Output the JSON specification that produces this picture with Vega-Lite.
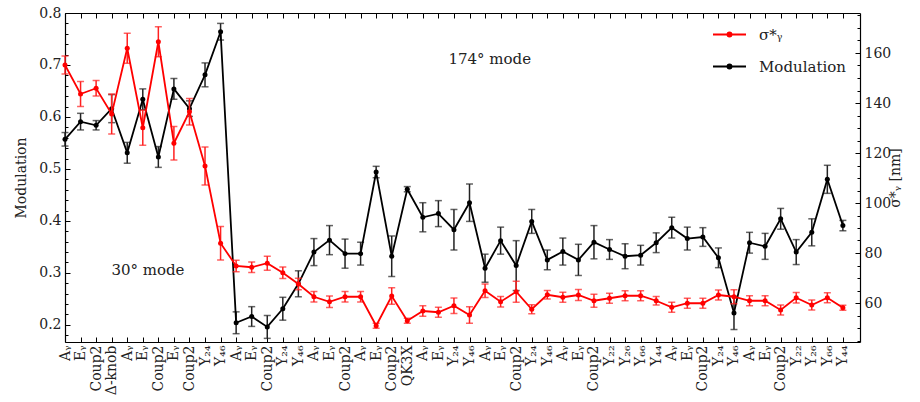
{
  "$schema": "https://vega.github.io/schema/vega-lite/v6.json",
  "width": 795,
  "height": 329,
  "autosize": {"type": "none"},
  "padding": {"left": 65, "top": 13, "right": 60, "bottom": 60},
  "background": "white",
  "config": {
    "font": "DejaVu Serif",
    "view": {"stroke": null},
    "axis": {"grid": false, "domainColor": "#000", "domainWidth": 1.2, "tickColor": "#000", "tickWidth": 1, "labelColor": "#222", "titleColor": "#222", "labelFont": "DejaVu Serif", "titleFont": "DejaVu Serif", "labelFontSize": 14, "titleFontSize": 14, "titleFontWeight": "normal"},
    "legend": {"orient": "none", "legendX": 647, "legendY": 4, "title": null, "symbolType": "M-1,0L1,0M-0.12,0A0.12,0.12,0,1,1,0.12,0A0.12,0.12,0,1,1,-0.12,0", "symbolSize": 1089, "symbolStrokeWidth": 2, "labelFont": "DejaVu Serif", "labelFontSize": 15, "labelColor": "#222", "labelOffset": 12, "rowPadding": 6, "padding": 0}
  },
  "datasets": {
    "m": [
      {"i":1,"mod":0.557,"lo":0.544,"hi":0.570},{"i":2,"mod":0.591,"lo":0.575,"hi":0.607},{"i":3,"mod":0.584,"lo":0.575,"hi":0.593},{"i":4,"mod":0.616,"lo":0.589,"hi":0.643},{"i":5,"mod":0.531,"lo":0.511,"hi":0.551},{"i":6,"mod":0.634,"lo":0.614,"hi":0.654},{"i":7,"mod":0.523,"lo":0.503,"hi":0.543},{"i":8,"mod":0.654,"lo":0.634,"hi":0.674},{"i":9,"mod":0.616,"lo":0.601,"hi":0.631},{"i":10,"mod":0.681,"lo":0.658,"hi":0.704},
      {"i":11,"mod":0.764,"lo":0.748,"hi":0.780},{"i":12,"mod":0.204,"lo":0.183,"hi":0.225},{"i":13,"mod":0.216,"lo":0.197,"hi":0.235},{"i":14,"mod":0.196,"lo":0.174,"hi":0.218},{"i":15,"mod":0.231,"lo":0.209,"hi":0.253},{"i":16,"mod":0.279,"lo":0.254,"hi":0.304},{"i":17,"mod":0.340,"lo":0.314,"hi":0.366},{"i":18,"mod":0.363,"lo":0.335,"hi":0.391},{"i":19,"mod":0.337,"lo":0.309,"hi":0.365},{"i":20,"mod":0.337,"lo":0.315,"hi":0.359},
      {"i":21,"mod":0.494,"lo":0.483,"hi":0.505},{"i":22,"mod":0.332,"lo":0.293,"hi":0.371},{"i":23,"mod":0.461,"lo":0.456,"hi":0.466},{"i":24,"mod":0.407,"lo":0.379,"hi":0.435},{"i":25,"mod":0.414,"lo":0.389,"hi":0.439},{"i":26,"mod":0.383,"lo":0.344,"hi":0.422},{"i":27,"mod":0.435,"lo":0.399,"hi":0.471},{"i":28,"mod":0.309,"lo":0.282,"hi":0.336},{"i":29,"mod":0.362,"lo":0.336,"hi":0.388},{"i":30,"mod":0.314,"lo":0.266,"hi":0.362},
      {"i":31,"mod":0.399,"lo":0.376,"hi":0.422},{"i":32,"mod":0.325,"lo":0.306,"hi":0.344},{"i":33,"mod":0.341,"lo":0.315,"hi":0.367},{"i":34,"mod":0.325,"lo":0.295,"hi":0.355},{"i":35,"mod":0.359,"lo":0.327,"hi":0.391},{"i":36,"mod":0.345,"lo":0.326,"hi":0.364},{"i":37,"mod":0.332,"lo":0.308,"hi":0.356},{"i":38,"mod":0.334,"lo":0.315,"hi":0.353},{"i":39,"mod":0.358,"lo":0.339,"hi":0.377},{"i":40,"mod":0.387,"lo":0.367,"hi":0.407},
      {"i":41,"mod":0.366,"lo":0.344,"hi":0.388},{"i":42,"mod":0.369,"lo":0.351,"hi":0.387},{"i":43,"mod":0.329,"lo":0.310,"hi":0.348},{"i":44,"mod":0.223,"lo":0.191,"hi":0.255},{"i":45,"mod":0.358,"lo":0.338,"hi":0.378},{"i":46,"mod":0.351,"lo":0.326,"hi":0.376},{"i":47,"mod":0.404,"lo":0.384,"hi":0.424},{"i":48,"mod":0.340,"lo":0.316,"hi":0.364},{"i":49,"mod":0.378,"lo":0.352,"hi":0.404},{"i":50,"mod":0.480,"lo":0.453,"hi":0.507},
      {"i":51,"mod":0.391,"lo":0.381,"hi":0.401}
    ],
    "s": [
      {"i":1,"s":155.2,"lo":151.6,"hi":158.8},{"i":2,"s":143.6,"lo":138.6,"hi":148.6},{"i":3,"s":145.9,"lo":142.8,"hi":149.0},{"i":4,"s":135.6,"lo":127.6,"hi":143.6},{"i":5,"s":161.9,"lo":155.9,"hi":167.9},{"i":6,"s":130.1,"lo":123.1,"hi":137.1},{"i":7,"s":164.5,"lo":158.5,"hi":170.5},{"i":8,"s":123.9,"lo":117.2,"hi":130.6},{"i":9,"s":136.5,"lo":131.2,"hi":141.8},{"i":10,"s":114.8,"lo":107.2,"hi":122.4},
      {"i":11,"s":83.9,"lo":77.2,"hi":90.6},{"i":12,"s":74.8,"lo":72.5,"hi":77.1},{"i":13,"s":74.3,"lo":72.2,"hi":76.4},{"i":14,"s":75.9,"lo":73.1,"hi":78.7},{"i":15,"s":72.1,"lo":69.8,"hi":74.4},{"i":16,"s":67.6,"lo":65.3,"hi":69.9},{"i":17,"s":62.5,"lo":60.4,"hi":64.6},{"i":18,"s":60.5,"lo":58.2,"hi":62.8},{"i":19,"s":62.5,"lo":60.4,"hi":64.6},{"i":20,"s":62.5,"lo":60.4,"hi":64.6},
      {"i":21,"s":50.9,"lo":49.9,"hi":51.9},{"i":22,"s":62.8,"lo":59.5,"hi":66.1},{"i":23,"s":52.9,"lo":51.9,"hi":53.9},{"i":24,"s":56.8,"lo":54.7,"hi":58.9},{"i":25,"s":56.3,"lo":54.3,"hi":58.3},{"i":26,"s":58.9,"lo":55.8,"hi":62.0},{"i":27,"s":55.2,"lo":51.9,"hi":58.5},{"i":28,"s":64.9,"lo":62.2,"hi":67.6},{"i":29,"s":60.5,"lo":58.4,"hi":62.6},{"i":30,"s":64.5,"lo":60.3,"hi":68.7},
      {"i":31,"s":57.5,"lo":55.7,"hi":59.3},{"i":32,"s":63.3,"lo":61.6,"hi":65.0},{"i":33,"s":62.3,"lo":60.3,"hi":64.3},{"i":34,"s":63.2,"lo":61.0,"hi":65.4},{"i":35,"s":60.9,"lo":58.3,"hi":63.5},{"i":36,"s":61.9,"lo":59.9,"hi":63.9},{"i":37,"s":62.9,"lo":60.9,"hi":64.9},{"i":38,"s":62.9,"lo":60.9,"hi":64.9},{"i":39,"s":60.9,"lo":59.2,"hi":62.6},{"i":40,"s":58.3,"lo":56.3,"hi":60.3},
      {"i":41,"s":59.9,"lo":57.9,"hi":61.9},{"i":42,"s":59.9,"lo":57.9,"hi":61.9},{"i":43,"s":63.2,"lo":61.2,"hi":65.2},{"i":44,"s":62.5,"lo":59.7,"hi":65.3},{"i":45,"s":60.9,"lo":58.9,"hi":62.9},{"i":46,"s":60.9,"lo":58.9,"hi":62.9},{"i":47,"s":57.2,"lo":55.2,"hi":59.2},{"i":48,"s":62.1,"lo":60.0,"hi":64.2},{"i":49,"s":59.2,"lo":57.2,"hi":61.2},{"i":50,"s":62.1,"lo":60.1,"hi":64.1},
      {"i":51,"s":58.1,"lo":57.1,"hi":59.1}
    ],
    "notes": [
      {"i":28.3,"mod":0.712,"label":"174° mode"},
      {"i":6.33,"mod":0.306,"label":"30° mode"}
    ]
  },
  "layer": [
    {
      "data": {"name": "m"},
      "encoding": {
        "x": {"field": "i", "type": "quantitative", "scale": {"domain": [1, 52.1], "nice": false, "zero": false},
              "axis": {"orient": "bottom", "title": null, "values": [1,2,3,4,5,6,7,8,9,10,11,12,13,14,15,16,17,18,19,20,21,22,23,24,25,26,27,28,29,30,31,32,33,34,35,36,37,38,39,40,41,42,43,44,45,46,47,48,49,50,51], "tickSize": -5, "labelAngle": 270, "labelPadding": 8, "labelFlush": false, "labelOverlap": false, "labelBound": false, "labelFont": "DejaVu Serif", "labelFontSize": 14, "labelColor": "#222",
                       "labelExpr": "['Aᵧ','Eᵧ','Coup2','Δ-knob','Aᵧ','Eᵧ','Coup2','Eᵧ','Coup2','Y₂₄','Y₄₆','Aᵧ','Eᵧ','Coup2','Y₂₄','Y₄₆','Aᵧ','Eᵧ','Coup2','Aᵧ','Eᵧ','Coup2','QK3X','Aᵧ','Eᵧ','Y₂₄','Y₄₆','Aᵧ','Eᵧ','Coup2','Y₂₄','Y₄₆','Aᵧ','Eᵧ','Coup2','Y₂₂','Y₂₆','Y₆₆','Y₄₄','Aᵧ','Eᵧ','Coup2','Y₂₄','Y₄₆','Aᵧ','Eᵧ','Coup2','Y₂₂','Y₂₆','Y₆₆','Y₄₄'][datum.value - 1]"}}
      },
      "layer": [
        {
          "mark": {"type": "errorbar", "ticks": {"size": 7, "thickness": 1.5}, "rule": {"strokeWidth": 1.5}, "color": "#222"},
          "encoding": {
            "y": {"field": "lo", "type": "quantitative", "scale": {"domain": [0.167, 0.8], "nice": false, "zero": false},
                  "axis": {"orient": "left", "title": "Modulation", "values": [0.2,0.3,0.4,0.5,0.6,0.7,0.8], "format": ".1f", "tickSize": -5, "labelPadding": 9, "titlePadding": 10, "labelFont": "DejaVu Serif", "titleFont": "DejaVu Serif", "labelFontSize": 14, "titleFontSize": 14}},
            "y2": {"field": "hi"}
          }
        },
        {
          "mark": {"type": "line", "strokeWidth": 1.8, "point": {"filled": true, "size": 25}},
          "encoding": {
            "y": {"field": "mod", "type": "quantitative", "scale": {"domain": [0.167, 0.8], "nice": false, "zero": false},
                  "axis": {"orient": "left", "title": "Modulation", "values": [0.2,0.3,0.4,0.5,0.6,0.7,0.8], "format": ".1f", "tickSize": -5, "labelPadding": 9, "titlePadding": 10, "labelFont": "DejaVu Serif", "titleFont": "DejaVu Serif", "labelFontSize": 14, "titleFontSize": 14}},
            "color": {"datum": "Modulation", "type": "nominal", "scale": {"domain": ["σ*ᵧ", "Modulation"], "range": ["#ff0000", "#000000"]},
                      "legend": {"labelFont": "DejaVu Serif", "labelFontSize": 15, "labelColor": "#222"}}
          }
        }
      ]
    },
    {
      "data": {"name": "s"},
      "encoding": {
        "x": {"field": "i", "type": "quantitative", "scale": {"domain": [1, 52.1], "nice": false, "zero": false},
              "axis": {"orient": "top", "title": null, "labels": false, "values": [1,2,3,4,5,6,7,8,9,10,11,12,13,14,15,16,17,18,19,20,21,22,23,24,25,26,27,28,29,30,31,32,33,34,35,36,37,38,39,40,41,42,43,44,45,46,47,48,49,50,51], "tickSize": -5}}
      },
      "layer": [
        {
          "mark": {"type": "errorbar", "ticks": {"size": 7, "thickness": 1.5}, "rule": {"strokeWidth": 1.5}, "color": "#ff2020"},
          "encoding": {
            "y": {"field": "lo", "type": "quantitative", "scale": {"domain": [44.4, 176], "nice": false, "zero": false},
                  "axis": {"orient": "right", "title": "σ*ᵧ [nm]", "titleAngle": 270, "values": [60,80,100,120,140,160], "tickSize": -5, "labelPadding": 9, "titlePadding": 12, "labelFont": "DejaVu Serif", "titleFont": "DejaVu Serif", "labelFontSize": 14, "titleFontSize": 14}},
            "y2": {"field": "hi"}
          }
        },
        {
          "mark": {"type": "line", "strokeWidth": 1.8, "point": {"filled": true, "size": 25}},
          "encoding": {
            "y": {"field": "s", "type": "quantitative", "scale": {"domain": [44.4, 176], "nice": false, "zero": false},
                  "axis": {"orient": "right", "title": "σ*ᵧ [nm]", "titleAngle": 270, "values": [60,80,100,120,140,160], "tickSize": -5, "labelPadding": 9, "titlePadding": 12, "labelFont": "DejaVu Serif", "titleFont": "DejaVu Serif", "labelFontSize": 14, "titleFontSize": 14}},
            "color": {"datum": "σ*ᵧ", "type": "nominal", "legend": {"labelFont": "DejaVu Serif", "labelFontSize": 15, "labelColor": "#222"}}
          }
        }
      ]
    },
    {
      "data": {"name": "m"},
      "mark": {"type": "point", "opacity": 0},
      "encoding": {
        "x": {"field": "i", "type": "quantitative", "scale": {"domain": [1, 52.1], "nice": false, "zero": false}, "axis": null},
        "y": {"field": "mod", "type": "quantitative", "scale": {"domain": [0.167, 0.8], "nice": false, "zero": false},
              "axis": {"orient": "left", "title": null, "labels": false, "domain": false, "tickSize": -3, "values": [0.18,0.22,0.24,0.26,0.28,0.32,0.34,0.36,0.38,0.42,0.44,0.46,0.48,0.52,0.54,0.56,0.58,0.62,0.64,0.66,0.68,0.72,0.74,0.76,0.78]}}
      }
    },
    {
      "data": {"name": "s"},
      "mark": {"type": "point", "opacity": 0},
      "encoding": {
        "x": {"field": "i", "type": "quantitative", "scale": {"domain": [1, 52.1], "nice": false, "zero": false}, "axis": null},
        "y": {"field": "s", "type": "quantitative", "scale": {"domain": [44.4, 176], "nice": false, "zero": false},
              "axis": {"orient": "right", "title": null, "labels": false, "domain": false, "tickSize": -3, "values": [45,50,55,65,70,75,85,90,95,105,110,115,125,130,135,145,150,155,165,170,175]}}
      }
    },
    {
      "mark": {"type": "rule", "color": "#0000ff", "strokeWidth": 1.5, "strokeDash": [6, 4]},
      "encoding": {
        "x": {"datum": 11.5, "type": "quantitative", "scale": {"domain": [1, 52.1], "nice": false, "zero": false}, "axis": null}
      }
    },
    {
      "data": {"name": "notes"},
      "mark": {"type": "text", "font": "DejaVu Serif", "fontSize": 15, "color": "#222", "align": "center", "baseline": "middle"},
      "encoding": {
        "x": {"field": "i", "type": "quantitative", "scale": {"domain": [1, 52.1], "nice": false, "zero": false}, "axis": null},
        "y": {"field": "mod", "type": "quantitative", "scale": {"domain": [0.167, 0.8], "nice": false, "zero": false}, "axis": null},
        "text": {"field": "label"}
      }
    }
  ],
  "resolve": {"scale": {"x": "independent", "y": "independent"}}
}
